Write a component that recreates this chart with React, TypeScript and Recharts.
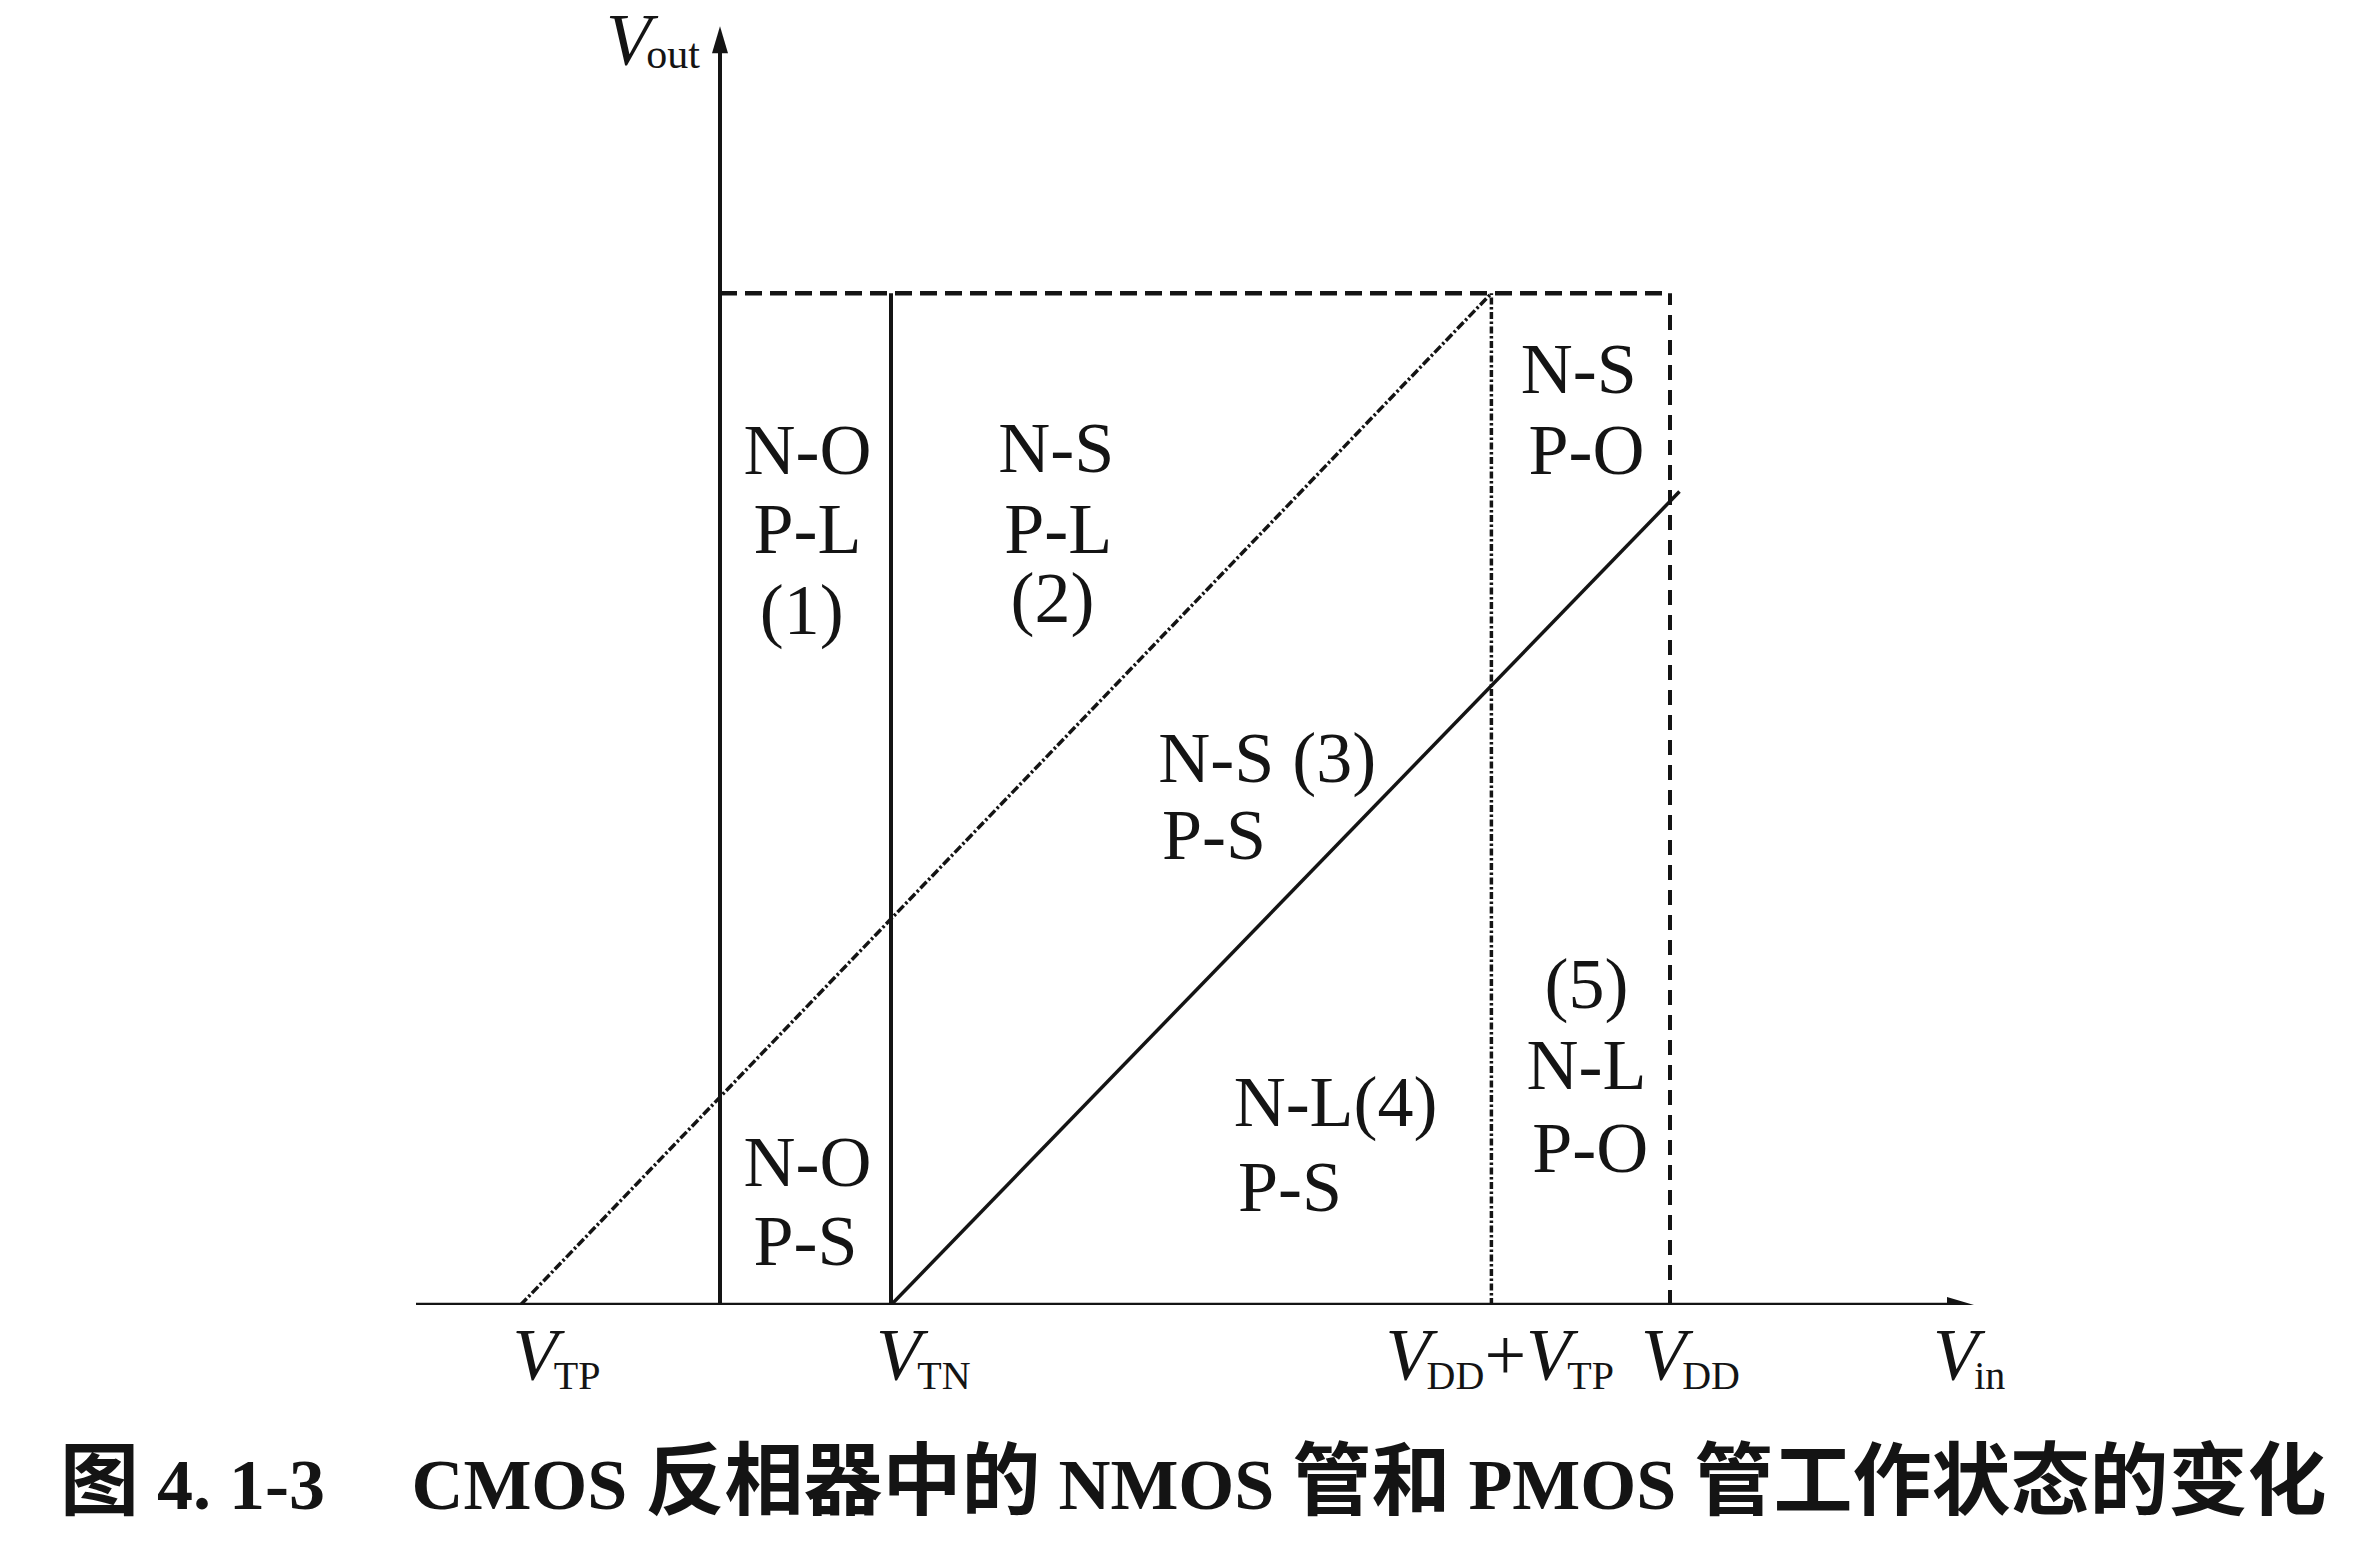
import React from 'react';
import { ComposedChart, Line, Scatter, XAxis, YAxis } from 'recharts';

// ---- data (Vin / Vout in volts, VDD = 5) ----
const vinTicks = [-1.05, 0.9, 4.06, 5, 6.6];
const vinTickLabels = ['V_TP', 'V_TN', 'V_DD+V_TP', 'V_DD', 'V_in'];

const xAxisLine = [{ x: -1.6, y: 0 }, { x: 6.5, y: 0 }];
const yAxisLine = [{ x: 0, y: 0 }, { x: 0, y: 6.22 }];
const vtnLine = [{ x: 0.9, y: 0 }, { x: 0.9, y: 5 }];
const vddVtpLine = [{ x: 4.06, y: 0 }, { x: 4.06, y: 5 }];
const vddLine = [{ x: 5, y: 0 }, { x: 5, y: 5 }];
const topLine = [{ x: 0, y: 5 }, { x: 5, y: 5 }];
const pmosBoundary = [{ x: -1.05, y: 0 }, { x: 4.06, y: 5 }];
const nmosBoundary = [{ x: 0.9, y: 0 }, { x: 5.05, y: 4.02 }];
const xArrow = [{ x: 6.6, y: 0 }];
const yArrow = [{ x: 0, y: 6.32 }];
const voutLabel = [{ x: -0.6, y: 6.13, text: 'V_out' }];

const regionLabels = [
  { x: 0.46, y: 4.23, text: 'N-O' },
  { x: 0.46, y: 3.84, text: 'P-L' },
  { x: 0.43, y: 3.44, text: '(1)' },
  { x: 1.77, y: 4.24, text: 'N-S' },
  { x: 1.78, y: 3.84, text: 'P-L' },
  { x: 1.75, y: 3.5, text: '(2)' },
  { x: 2.88, y: 2.71, text: 'N-S (3)' },
  { x: 2.6, y: 2.33, text: 'P-S' },
  { x: 0.46, y: 0.71, text: 'N-O' },
  { x: 0.45, y: 0.32, text: 'P-S' },
  { x: 3.24, y: 1.01, text: 'N-L(4)' },
  { x: 3.0, y: 0.59, text: 'P-S' },
  { x: 4.52, y: 4.63, text: 'N-S' },
  { x: 4.56, y: 4.23, text: 'P-O' },
  { x: 4.56, y: 1.59, text: '(5)' },
  { x: 4.56, y: 1.19, text: 'N-L' },
  { x: 4.58, y: 0.78, text: 'P-O' },
];

const captionParts = [
  '图', ' 4. 1-3\u2003\u2009', 'CMOS', ' ', '反相器中的', ' ', 'NMOS', ' ', '管和', ' ', 'PMOS', ' ', '管工作状态的变化',
];

// ---- styles ----
const INK = '#141414';
const SERIF = '"Liberation Serif", "Times New Roman", serif';
const tickDx = [-8, -15, -106, -29, -41];
const SUB_SHIFT = 9;

function symbolText(label: string, mainSize: number, subSize: number) {
  const parts: React.ReactNode[] = [];
  const terms = label.split('+');
  let k = 0;
  let pendingDy = 0;
  terms.forEach((term, ti) => {
    if (ti > 0) {
      parts.push(
        <tspan key={k++} fontStyle="normal" fontSize={mainSize} dy={pendingDy}>+</tspan>
      );
      pendingDy = 0;
    }
    const [main, sub] = term.split('_');
    parts.push(
      <tspan key={k++} fontStyle="italic" fontSize={mainSize} dy={pendingDy}>{main}</tspan>
    );
    pendingDy = 0;
    if (sub) {
      parts.push(
        <tspan key={k++} fontStyle="normal" fontSize={subSize} dx={-4} dy={SUB_SHIFT}>{sub}</tspan>
      );
      pendingDy = -SUB_SHIFT;
    }
  });
  return parts;
}

const VinTick = (props: any) => {
  const { x, y, index } = props;
  const label = vinTickLabels[index] ?? '';
  return (
    <text
      x={x + (tickDx[index] ?? 0)}
      y={y + 75}
      textAnchor="start"
      fontFamily={SERIF}
      fill={INK}
    >
      {symbolText(label, 74, 40)}
    </text>
  );
};

const RightArrow = (props: any) => {
  const { cx, cy } = props;
  return (
    <polygon
      points={`${cx},${cy} ${cx - 27},${cy - 8} ${cx - 27},${cy + 8}`}
      fill={INK}
    />
  );
};

const UpArrow = (props: any) => {
  const { cx, cy } = props;
  return (
    <polygon
      points={`${cx},${cy} ${cx - 8},${cy + 27} ${cx + 8},${cy + 27}`}
      fill={INK}
    />
  );
};

const RegionText = (props: any) => {
  const { cx, cy, payload } = props;
  return (
    <text
      x={cx}
      y={cy + 25}
      textAnchor="middle"
      fontFamily={SERIF}
      fontSize={72}
      fill={INK}
    >
      {payload.text}
    </text>
  );
};

const VoutText = (props: any) => {
  const { cx, cy, payload } = props;
  return (
    <text x={cx} y={cy} textAnchor="start" fontFamily={SERIF} fill={INK}>
      <tspan fontStyle="italic" fontSize={74}>V</tspan>
      <tspan fontSize={42} dx={-5} dy={3}>{payload.text.split('_')[1]}</tspan>
    </text>
  );
};

const lineCommon = {
  dataKey: 'y',
  dot: false,
  activeDot: false,
  isAnimationActive: false,
  stroke: INK,
  strokeLinecap: 'butt' as const,
  legendType: 'none' as const,
};

const isCJK = (s: string) => /[\u4e00-\u9fff]/.test(s);

export default function App() {
  return (
    <div
      style={{
        position: 'absolute',
        left: 0,
        top: 0,
        width: 2372,
        height: 1564,
        background: '#ffffff',
        overflow: 'hidden',
      }}
    >
      <ComposedChart
        width={2372}
        height={1564}
        margin={{ top: 10, right: 398, bottom: 179, left: 416 }}
      >
        <XAxis
          type="number"
          dataKey="x"
          domain={[-1.6, 6.6]}
          allowDataOverflow
          ticks={vinTicks}
          interval={0}
          axisLine={false}
          tickLine={false}
          tickSize={0}
          tickMargin={0}
          height={80}
          tick={<VinTick />}
        />
        <YAxis type="number" dataKey="y" domain={[0, 6.4]} allowDataOverflow hide />

        <Line {...lineCommon} data={topLine} strokeWidth={4.5} strokeDasharray="17 8" />
        <Line {...lineCommon} data={vddLine} strokeWidth={4} strokeDasharray="15 10" />
        <Line {...lineCommon} data={vddVtpLine} strokeWidth={3.5} strokeDasharray="7 2.5 2.5 2.5" />
        <Line {...lineCommon} data={pmosBoundary} strokeWidth={3.5} strokeDasharray="9 2.5 2.5 2.5" />
        <Line {...lineCommon} data={nmosBoundary} strokeWidth={3.5} />
        <Line {...lineCommon} data={vtnLine} strokeWidth={4} />
        <Line {...lineCommon} data={yAxisLine} strokeWidth={4} />
        <Line {...lineCommon} data={xAxisLine} strokeWidth={4.5} />

        <Scatter data={xArrow} dataKey="y" isAnimationActive={false} shape={<RightArrow />} legendType="none" />
        <Scatter data={yArrow} dataKey="y" isAnimationActive={false} shape={<UpArrow />} legendType="none" />
        <Scatter data={voutLabel} dataKey="y" isAnimationActive={false} shape={<VoutText />} legendType="none" />
        <Scatter data={regionLabels} dataKey="y" isAnimationActive={false} shape={<RegionText />} legendType="none" />
      </ComposedChart>
      <div
        style={{
          position: 'absolute',
          left: 60,
          top: 1435,
          fontFamily: '"Liberation Serif", "Noto Sans CJK SC", serif',
          fontWeight: 'bold',
          lineHeight: '80px',
          color: INK,
          whiteSpace: 'pre',
        }}
      >
        {captionParts.map((p, i) => (
          <span
            key={i}
            style={{
              fontSize: isCJK(p) ? 79 : 72,
              fontFamily: isCJK(p) ? '"Noto Sans CJK SC", sans-serif' : SERIF,
            }}
          >
            {p}
          </span>
        ))}
      </div>
    </div>
  );
}
